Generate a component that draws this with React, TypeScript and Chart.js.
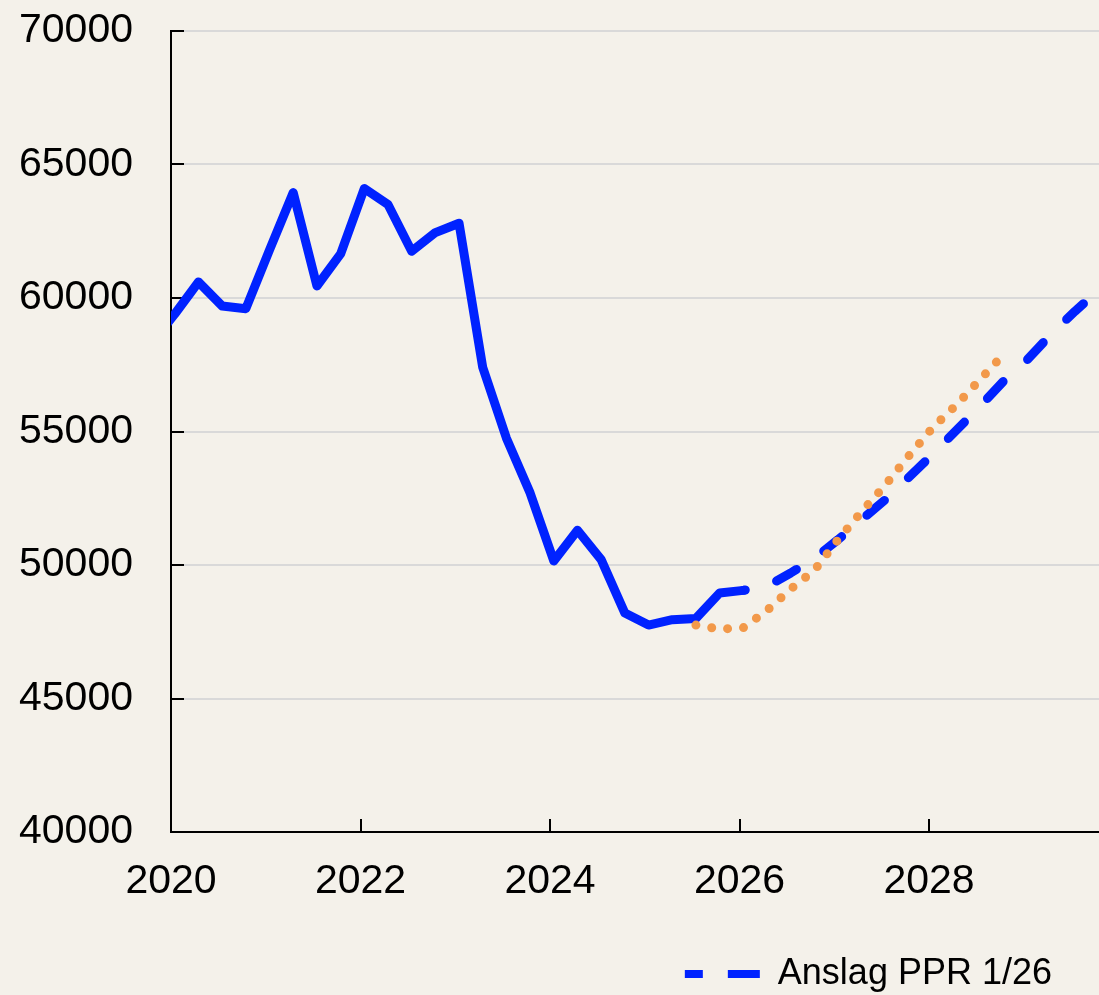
import React, { useEffect, useRef } from 'react';
import { Chart, registerables } from 'chart.js';

Chart.register(...registerables);

// ---- Data (quarterly) ----
const actualQuarters = [
  '2019K4', '2020K1', '2020K2', '2020K3', '2020K4',
  '2021K1', '2021K2', '2021K3', '2021K4',
  '2022K1', '2022K2', '2022K3', '2022K4',
  '2023K1', '2023K2', '2023K3', '2023K4',
  '2024K1', '2024K2', '2024K3', '2024K4',
  '2025K1', '2025K2', '2025K3', '2025K4',
  '2026K1',
];
const actualValues = [
  58300, 59400, 60600, 59700, 59600,
  61800, 63950, 60450, 61650,
  64100, 63500, 61750, 62450,
  62800, 57400, 54750, 52700,
  50150, 51300, 50200, 48200,
  47750, 47950, 48000, 48950,
  49050,
];

const forecastQuarters = [
  '2026K1', '2026K2', '2026K3', '2026K4',
  '2027K1', '2027K2', '2027K3', '2027K4',
  '2028K1', '2028K2', '2028K3', '2028K4',
  '2029K1', '2029K2', '2029K3', '2029K4',
];
const forecastValues = [
  49050, 49200, 49700, 50250,
  50950, 51700, 52450, 53300,
  54150, 55050, 55950, 56900,
  57700, 58650, 59500, 60300,
];

const altQuarters = [
  '2025K3', '2025K4',
  '2026K1', '2026K2', '2026K3', '2026K4',
  '2027K1', '2027K2', '2027K3', '2027K4',
  '2028K1', '2028K2', '2028K3', '2028K4',
];
const altValues = [
  47750, 47600,
  47650, 48300, 49100, 49800,
  50950, 52000, 53000, 54100,
  55150, 56000, 56950, 57900,
];

const yearTicks = [2020, 2022, 2024, 2026, 2028];
const yTickValues = [40000, 45000, 50000, 55000, 60000, 65000, 70000];
const legendText = 'Anslag PPR 1/26';

// ---- Styles ----
const BG = '#F4F1EA';
const BLUE = '#0022FF';
const ORANGE = '#F2994A';
const GRID = '#D9D9D9';
const FONT = '"Liberation Sans", Arial, sans-serif';
const X_MIN = 2020;
const X_MAX = 2029.794;
const QUARTER_POS = 0.04; // position of a quarter's point within the quarter

function quarterToX(q: string): number {
  const year = parseInt(q.slice(0, 4), 10);
  const qi = parseInt(q.slice(5), 10);
  return year + (qi - 1) * 0.25 + QUARTER_POS;
}

function toPoints(qs: string[], vs: number[]) {
  return qs.map((q, i) => ({ x: quarterToX(q), y: vs[i] }));
}

export default function App() {
  const ref = useRef<HTMLCanvasElement>(null);

  useEffect(() => {
    document.body.style.margin = '0';
    document.body.style.background = BG;
    if (!ref.current) return;

    const innerTicks = {
      id: 'innerTicks',
      beforeDatasetsDraw(chart: any) {
        const { ctx, chartArea, scales } = chart;
        ctx.save();
        ctx.strokeStyle = '#000';
        ctx.lineWidth = 2;
        ctx.beginPath();
        for (const v of yTickValues) {
          const py = Math.round(scales.y.getPixelForValue(v));
          ctx.moveTo(chartArea.left, py);
          ctx.lineTo(chartArea.left + 13, py);
        }
        for (const v of yearTicks) {
          const px = Math.round(scales.x.getPixelForValue(v));
          ctx.moveTo(px, chartArea.bottom);
          ctx.lineTo(px, chartArea.bottom - 13);
        }
        ctx.stroke();
        ctx.restore();
      },
    };

    const legendShift = {
      id: 'legendShift',
      afterLayout(chart: any) {
        const l = chart.legend;
        if (l) {
          l.right -= 37;
          l.top += 7;
          l.bottom += 7;
        }
      },
    };

    const noScalePadding = (s: any) => {
      s.paddingTop = 0;
      s.paddingBottom = 0;
      s.paddingLeft = 0;
      s.paddingRight = 0;
    };

    const chart = new Chart(ref.current, {
      type: 'line',
      data: {
        datasets: [
          {
            label: 'Alternativ',
            data: toPoints(altQuarters, altValues),
            borderColor: ORANGE,
            backgroundColor: ORANGE,
            borderWidth: 9,
            borderDash: [0, 16],
            borderCapStyle: 'round',
            borderJoinStyle: 'round',
            pointRadius: 0,
            tension: 0,
          },
          {
            label: legendText,
            data: toPoints(forecastQuarters, forecastValues),
            borderColor: BLUE,
            backgroundColor: BLUE,
            borderWidth: 9,
            borderDash: [23, 33],
            borderDashOffset: 21,
            borderCapStyle: 'round',
            borderJoinStyle: 'round',
            pointRadius: 0,
            tension: 0,
          },
          {
            label: 'Utfall',
            data: toPoints(actualQuarters, actualValues),
            borderColor: BLUE,
            backgroundColor: BLUE,
            borderWidth: 9,
            borderCapStyle: 'round',
            borderJoinStyle: 'round',
            pointRadius: 0,
            tension: 0,
            clip: 0,
          },
        ],
      } as any,
      options: {
        animation: false,
        responsive: true,
        maintainAspectRatio: false,
        events: [],
        layout: { autoPadding: false, padding: { top: 31, right: 0, bottom: 0, left: 0 } },
        scales: {
          x: {
            type: 'linear',
            min: X_MIN,
            max: X_MAX,
            afterBuildTicks: (s: any) => {
              s.ticks = yearTicks.map((v) => ({ value: v }));
            },
            afterFit: (s: any) => {
              s.height = 107;
              noScalePadding(s);
            },
            grid: { display: false, drawTicks: false },
            border: { display: true, color: '#000', width: 2 },
            ticks: {
              padding: 25,
              color: '#000',
              font: { family: FONT, size: 41 },
              maxRotation: 0,
              autoSkip: false,
              callback: (v: any) => String(v),
            },
          },
          y: {
            min: 40000,
            max: 70000,
            afterBuildTicks: (s: any) => {
              s.ticks = yTickValues.map((v) => ({ value: v }));
            },
            afterFit: (s: any) => {
              s.width = 171;
              noScalePadding(s);
            },
            grid: { color: GRID, lineWidth: 2, drawTicks: false },
            border: { display: true, color: '#000', width: 2 },
            ticks: {
              padding: 38,
              color: '#000',
              font: { family: FONT, size: 41 },
              callback: (v: any) => String(v),
            },
          },
        },
        plugins: {
          legend: {
            display: true,
            position: 'bottom',
            align: 'end',
            labels: {
              usePointStyle: true,
              pointStyleWidth: 75,
              boxHeight: 8,
              padding: 10,
              color: '#000',
              font: { family: FONT, size: 36 },
              generateLabels: () => [
                {
                  text: legendText,
                  fillStyle: BLUE,
                  strokeStyle: BLUE,
                  fontColor: '#000',
                  lineWidth: 8,
                  lineDash: [32, 25],
                  lineDashOffset: 14,
                  lineCap: 'butt',
                  pointStyle: 'line',
                  hidden: false,
                  datasetIndex: 1,
                },
              ],
            },
          },
          tooltip: { enabled: false },
          title: { display: false },
        },
      } as any,
      plugins: [innerTicks, legendShift],
    });

    return () => chart.destroy();
  }, []);

  return (
    <div style={{ width: 1099, height: 995, background: BG, position: 'relative' }}>
      <canvas ref={ref} />
    </div>
  );
}
